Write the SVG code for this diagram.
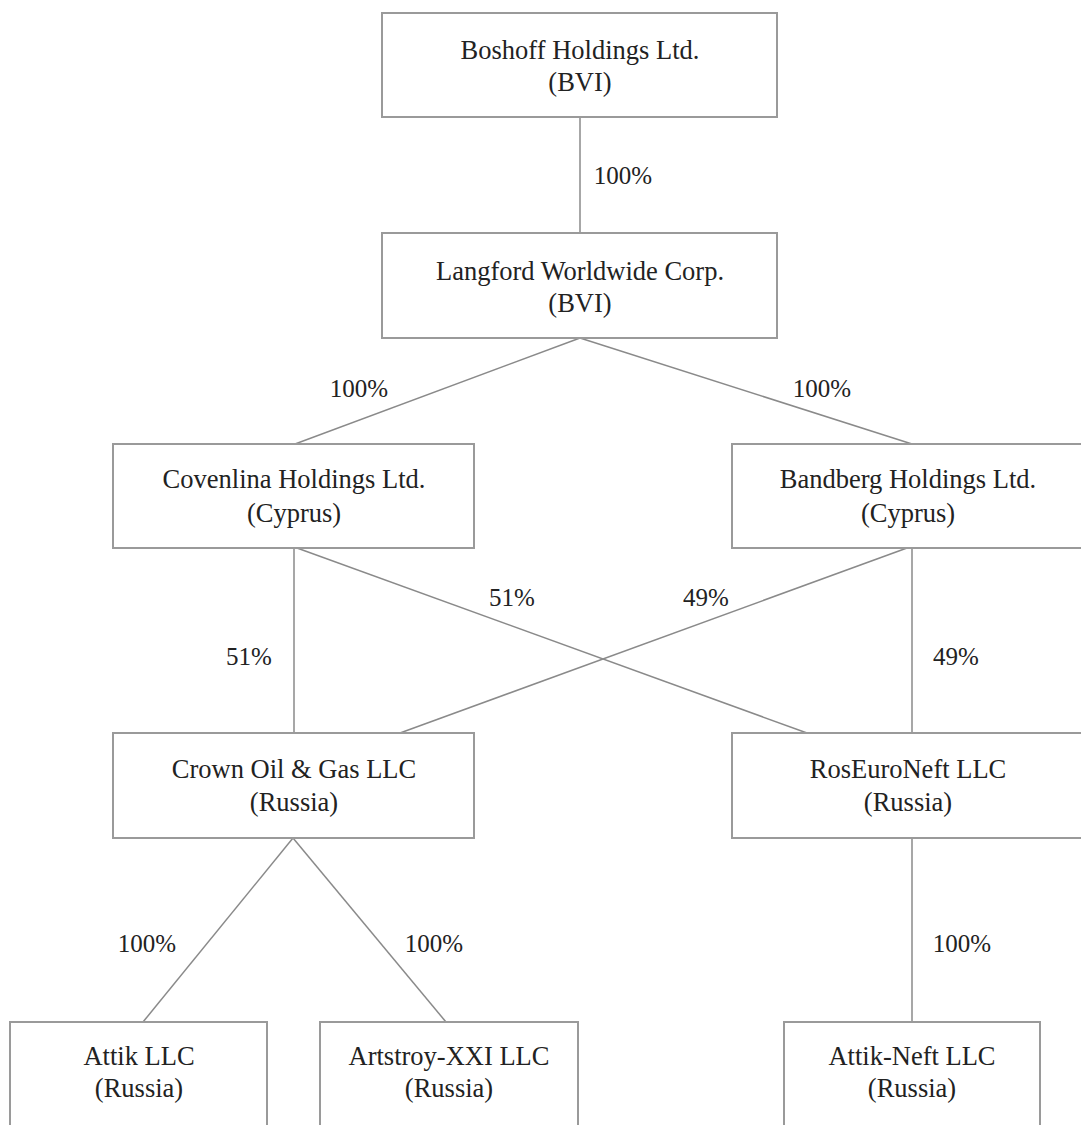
<svg xmlns="http://www.w3.org/2000/svg" width="1081" height="1125" viewBox="0 0 1081 1125">
<style>
.box{fill:#fff;stroke:#9a9a9a;stroke-width:2}
text{font-family:'Liberation Serif',Tinos,'Times New Roman','DejaVu Serif',serif;fill:#222;text-anchor:middle}
.t{font-size:26.5px}
.lbl{font-size:25px}
.c line{stroke:#8a8a8a;stroke-width:1.5}
</style>
<rect width="1081" height="1125" fill="#fff"/>
<g class="c" id="connectors">
<line x1="580" y1="117" x2="580" y2="233"/>
<line x1="580" y1="338" x2="295" y2="444"/>
<line x1="580" y1="338" x2="912" y2="444"/>
<line x1="294" y1="548" x2="294" y2="733"/>
<line x1="297" y1="548" x2="807" y2="733"/>
<line x1="912" y1="548" x2="912" y2="733"/>
<line x1="907" y1="548" x2="400" y2="733"/>
<line x1="293" y1="838" x2="143" y2="1022"/>
<line x1="293" y1="838" x2="446" y2="1022"/>
<line x1="912" y1="838" x2="912" y2="1022"/>
</g>
<g id="labels">
<text class="lbl" x="623" y="184">100%</text>
<text class="lbl" x="359" y="397">100%</text>
<text class="lbl" x="822" y="397">100%</text>
<text class="lbl" x="512" y="606">51%</text>
<text class="lbl" x="706" y="606">49%</text>
<text class="lbl" x="249" y="665">51%</text>
<text class="lbl" x="956" y="665">49%</text>
<text class="lbl" x="147" y="952">100%</text>
<text class="lbl" x="434" y="952">100%</text>
<text class="lbl" x="962" y="952">100%</text>
</g>
<g id="boshoff"><rect class="box" x="382" y="13" width="395" height="104"/>
<text class="t" x="580" y="59">Boshoff Holdings Ltd.</text><text class="t" x="580" y="91">(BVI)</text></g>
<g id="langford"><rect class="box" x="382" y="233" width="395" height="105"/>
<text class="t" x="580" y="280">Langford Worldwide Corp.</text><text class="t" x="580" y="312">(BVI)</text></g>
<g id="covenlina"><rect class="box" x="113" y="444" width="361" height="104"/>
<text class="t" x="294" y="488">Covenlina Holdings Ltd.</text><text class="t" x="294" y="522">(Cyprus)</text></g>
<g id="bandberg"><rect class="box" x="732" y="444" width="360" height="104"/>
<text class="t" x="908" y="488">Bandberg Holdings Ltd.</text><text class="t" x="908" y="522">(Cyprus)</text></g>
<g id="crown"><rect class="box" x="113" y="733" width="361" height="105"/>
<text class="t" x="294" y="778">Crown Oil &amp; Gas LLC</text><text class="t" x="294" y="811">(Russia)</text></g>
<g id="roseuroneft"><rect class="box" x="732" y="733" width="360" height="105"/>
<text class="t" x="908" y="778">RosEuroNeft LLC</text><text class="t" x="908" y="811">(Russia)</text></g>
<g id="attik"><rect class="box" x="10" y="1022" width="257" height="120"/>
<text class="t" x="139" y="1065">Attik LLC</text><text class="t" x="139" y="1097">(Russia)</text></g>
<g id="artstroy"><rect class="box" x="320" y="1022" width="258" height="120"/>
<text class="t" x="449" y="1065">Artstroy-XXI LLC</text><text class="t" x="449" y="1097">(Russia)</text></g>
<g id="attikneft"><rect class="box" x="784" y="1022" width="256" height="120"/>
<text class="t" x="912" y="1065">Attik-Neft LLC</text><text class="t" x="912" y="1097">(Russia)</text></g>
</svg>
